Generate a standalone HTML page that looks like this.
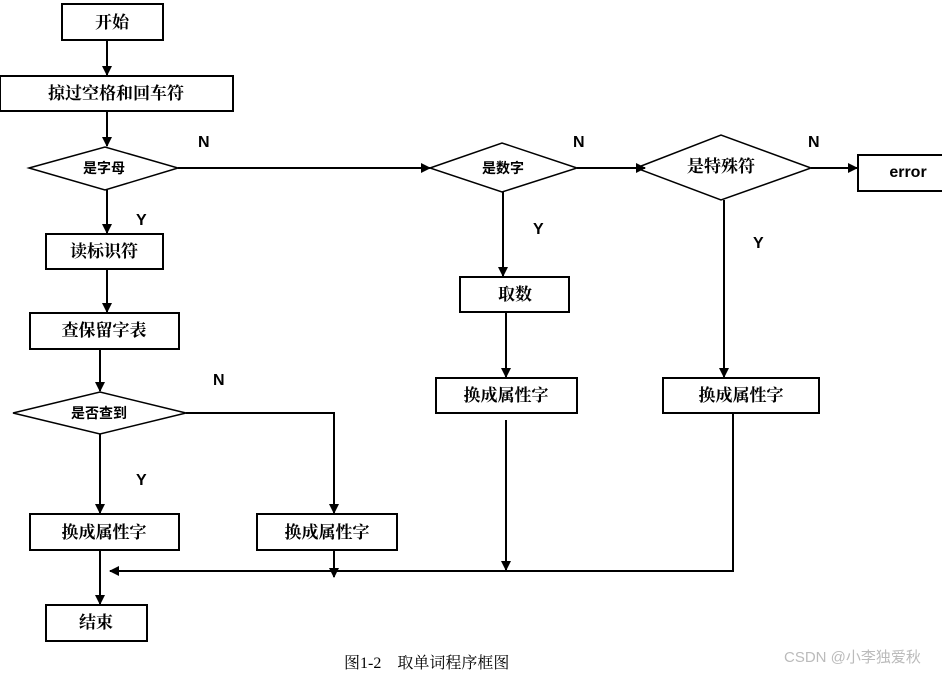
<!DOCTYPE html>
<html><head><meta charset="utf-8"><style>
html,body{margin:0;padding:0;background:#fff;}
svg{display:block;}
.t{font-family:"Liberation Serif","Noto Serif CJK SC",serif;font-size:17px;font-weight:bold;fill:#000;}
.s{font-family:"Liberation Sans","Noto Sans CJK SC",sans-serif;font-size:14px;font-weight:bold;fill:#000;}
.l{font-family:"Liberation Sans",sans-serif;font-size:16px;font-weight:bold;fill:#000;}
</style></head><body>
<svg width="942" height="673" viewBox="0 0 942 673" xmlns="http://www.w3.org/2000/svg">
<defs><marker id="a" markerWidth="10" markerHeight="10" refX="9" refY="5" orient="auto" markerUnits="userSpaceOnUse"><path d="M0,0 L10,5 L0,10 z" fill="#000"/></marker></defs>
<g fill="none" stroke="#000" stroke-width="2">
<rect x="62" y="4" width="101" height="36"/>
<rect x="0" y="76" width="233" height="35"/>
<polygon points="29,168 105,147 178,168 105,190" stroke-width="1.5"/>
<rect x="46" y="234" width="117" height="35"/>
<rect x="30" y="313" width="149" height="36"/>
<polygon points="13,413 100,392 186,413 100,434" stroke-width="1.5"/>
<rect x="30" y="514" width="149" height="36"/>
<rect x="257" y="514" width="140" height="36"/>
<rect x="46" y="605" width="101" height="36"/>
<polygon points="430,168 502,143 577,168 502,192" stroke-width="1.5"/>
<rect x="460" y="277" width="109" height="35"/>
<rect x="436" y="378" width="141" height="35"/>
<polygon points="636,168 721,135 811,168 721,200" stroke-width="1.5"/>
<rect x="858" y="155" width="90" height="36"/>
<rect x="663" y="378" width="156" height="35"/>
</g>
<g stroke="#000" stroke-width="2" fill="none">
<line x1="107" y1="40" x2="107" y2="75" marker-end="url(#a)"/>
<line x1="107" y1="111" x2="107" y2="146" marker-end="url(#a)"/>
<line x1="107" y1="190" x2="107" y2="233" marker-end="url(#a)"/>
<line x1="107" y1="269" x2="107" y2="312" marker-end="url(#a)"/>
<line x1="100" y1="349" x2="100" y2="391" marker-end="url(#a)"/>
<line x1="100" y1="434" x2="100" y2="513" marker-end="url(#a)"/>
<polyline points="186,413 334,413 334,513" marker-end="url(#a)"/>
<line x1="100" y1="550" x2="100" y2="604" marker-end="url(#a)"/>
<line x1="178" y1="168" x2="430" y2="168" marker-end="url(#a)"/>
<line x1="577" y1="168" x2="645" y2="168" marker-end="url(#a)"/>
<line x1="811" y1="168" x2="857" y2="168" marker-end="url(#a)"/>
<line x1="503" y1="192" x2="503" y2="276" marker-end="url(#a)"/>
<line x1="506" y1="312" x2="506" y2="377" marker-end="url(#a)"/>
<line x1="724" y1="200" x2="724" y2="377" marker-end="url(#a)"/>
<line x1="506" y1="420" x2="506" y2="570" marker-end="url(#a)"/>
<polyline points="733,413 733,571 110,571" marker-end="url(#a)"/>
<line x1="334" y1="550" x2="334" y2="577" marker-end="url(#a)"/>
</g>
<g text-anchor="middle">
<text class="t" x="112" y="28">开始</text>
<text class="t" x="116" y="99">掠过空格和回车符</text>
<text class="s" x="104" y="173">是字母</text>
<text class="t" x="104" y="257">读标识符</text>
<text class="t" x="104" y="336">查保留字表</text>
<text class="s" x="99" y="418">是否查到</text>
<text class="t" x="104" y="538">换成属性字</text>
<text class="t" x="327" y="538">换成属性字</text>
<text class="t" x="96" y="628">结束</text>
<text class="s" x="503" y="173">是数字</text>
<text class="t" x="515" y="300">取数</text>
<text class="t" x="506" y="401">换成属性字</text>
<text class="t" x="721" y="172">是特殊符</text>
<text class="l" x="908" y="177">error</text>
<text class="t" x="741" y="401">换成属性字</text>
</g>
<g class="l">
<text x="198" y="147">N</text><text x="573" y="147">N</text><text x="808" y="147">N</text>
<text x="136" y="225">Y</text><text x="533" y="234">Y</text><text x="753" y="248">Y</text>
<text x="213" y="385">N</text><text x="136" y="485">Y</text>
</g>
<text x="344" y="668" style="font-family:'Liberation Serif','Noto Serif CJK SC',serif;font-size:16px;fill:#000">图1-2　取单词程序框图</text>
<text x="784" y="662" style="font-family:'Liberation Sans','Noto Sans CJK SC',sans-serif;font-size:15px;fill:#bbb">CSDN @小李独爱秋</text>
</svg>
</body></html>
